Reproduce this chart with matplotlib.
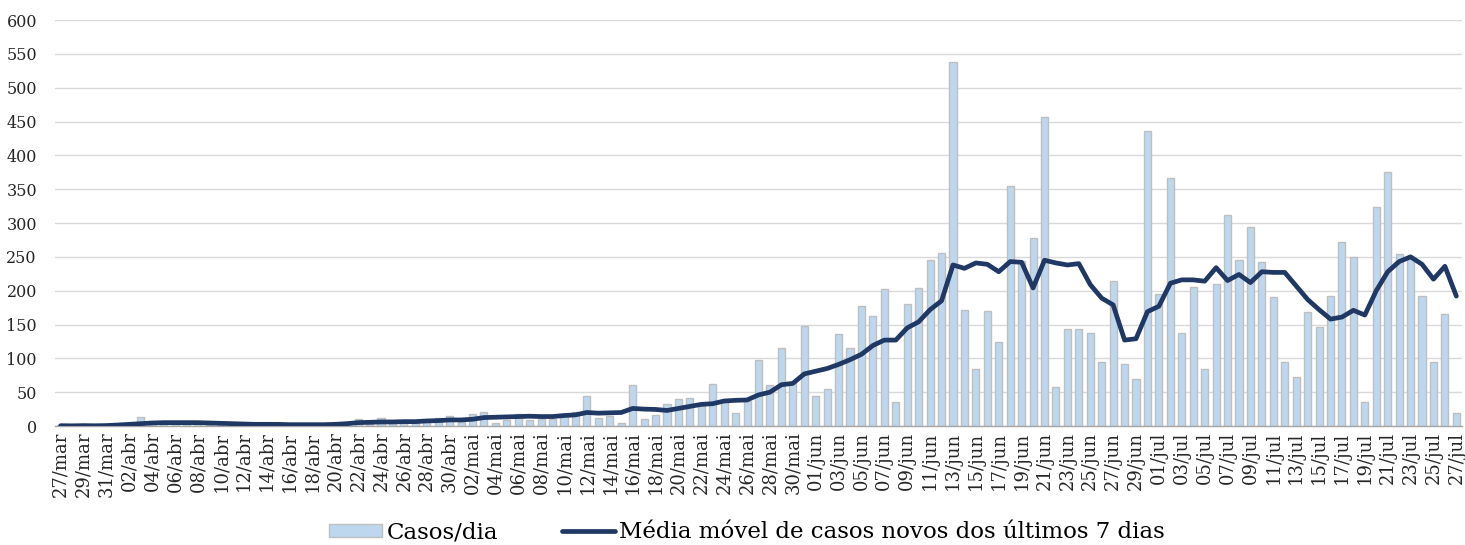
#!/usr/bin/env python3
"""
Casos diários e média móvel de 7 dias (27/mar a 27/jul)
"""

import matplotlib
matplotlib.use('Agg')
import matplotlib.pyplot as plt
from matplotlib.patches import Patch
from matplotlib.lines import Line2D
import numpy as np
import pandas as pd

# Dias do período, rotulados como dd/mmm em português
month_pt = {3: 'mar', 4: 'abr', 5: 'mai', 6: 'jun', 7: 'jul'}
days = pd.date_range('2020-03-27', '2020-07-27', freq='D')
day_labels = [f"{d.day:02d}/{month_pt[d.month]}" for d in days]

# Casos novos por dia
daily_cases = [
    1, 0, 1, 0, 1, 3, 2, 13, 4, 3,
    5, 3, 4, 2, 1, 2, 3, 1, 2, 1,
    2, 1, 0, 2, 3, 2, 11, 3, 12, 5,
    4, 6, 8, 12, 15, 6, 18, 20, 4, 9,
    18, 9, 10, 10, 18, 20, 44, 12, 15, 5,
    61, 10, 16, 32, 40, 42, 30, 62, 35, 19,
    37, 97, 61, 115, 63, 148, 44, 54, 136, 116,
    178, 163, 202, 36, 180, 204, 245, 255, 538, 171,
    85, 170, 124, 354, 244, 278, 456, 58, 144, 143,
    138, 95, 214, 91, 70, 436, 195, 367, 137, 205,
    84, 210, 312, 245, 294, 242, 190, 95, 72, 169,
    147, 192, 272, 250, 36, 323, 375, 254, 248, 192,
    95, 166, 19,
]

# Média móvel dos últimos 7 dias
moving_avg = [
    0.5, 0.3, 0.6, 0.4, 0.7, 1.5, 2.5, 3.5, 4.5, 5,
    5, 5, 5, 4.5, 4, 3.5, 3, 2.5, 2.5, 2.5,
    2, 2, 2, 2, 2.5, 3.5, 5, 5.5, 6, 6,
    6.5, 6.5, 7.5, 8, 9, 9, 10, 12.5, 13, 13.5,
    14, 14.5, 14, 14, 15.5, 16.5, 20, 19, 19.5, 20,
    26, 25, 24.5, 23, 26, 29, 32, 33, 37, 38,
    38.5, 46, 50, 61, 63, 77, 81, 85, 91, 98,
    106, 119, 127, 127, 145, 154, 172, 185, 238, 233,
    241, 239, 228, 243, 242, 204, 245, 241, 238, 240,
    209, 189, 179, 127, 129, 169, 177, 211, 216, 216,
    214, 234, 215, 224, 212, 228, 227, 227, 207, 187,
    172, 158, 161, 171, 164, 200, 228, 243, 250, 239,
    217, 236, 192,
]

y_ticks = list(range(0, 601, 50))

BAR_FACE = '#BDD7EE'
BAR_EDGE = '#BFBFBF'
LINE_COLOR = '#1F3864'
GRID_COLOR = '#D9D9D9'

plt.rcParams['font.family'] = ['DejaVu Serif']

fig = plt.figure(figsize=(14.65, 5.45), dpi=100)
ax = fig.add_axes([0.0375, 0.2183, 0.9605, 0.745])

x = np.arange(len(daily_cases))
ax.bar(x, daily_cases, width=0.62, color=BAR_FACE, edgecolor=BAR_EDGE,
       linewidth=1.0, zorder=2)
ax.plot(x, moving_avg, color=LINE_COLOR, linewidth=3.4,
        solid_joinstyle='round', solid_capstyle='round', zorder=3)

ax.set_xlim(-0.5, len(daily_cases) - 0.5)
ax.set_ylim(0, 600)
ax.set_yticks(y_ticks)
ax.set_yticklabels([str(v) for v in y_ticks], fontsize=11.5, color='#262626')
ax.set_xticks(x[::2])
ax.set_xticklabels(day_labels[::2], rotation=90, fontsize=13, color='#262626')
ax.tick_params(axis='both', length=0, pad=4)
ax.tick_params(axis='y', pad=13)

ax.yaxis.grid(True, color=GRID_COLOR, linewidth=1.0, zorder=0)
ax.set_axisbelow(True)
for side in ['top', 'right', 'left']:
    ax.spines[side].set_visible(False)
ax.spines['bottom'].set_color('#A6A6A6')
ax.spines['bottom'].set_linewidth(1.0)

handles = [
    Patch(facecolor=BAR_FACE, edgecolor=BAR_EDGE, linewidth=1.0),
    Line2D([0], [0], color=LINE_COLOR, linewidth=3.4, solid_capstyle='round'),
]
labels = ['Casos/dia', 'Média móvel de casos novos dos últimos 7 dias']
fig.legend(handles, labels, loc='lower center', bbox_to_anchor=(0.51, -0.035),
           ncol=2, frameon=False, fontsize=16.5, handlelength=2.3,
           handleheight=0.5, handletextpad=0.2, columnspacing=2.8)

fig.savefig('out.png', dpi=100)
plt.close(fig)
